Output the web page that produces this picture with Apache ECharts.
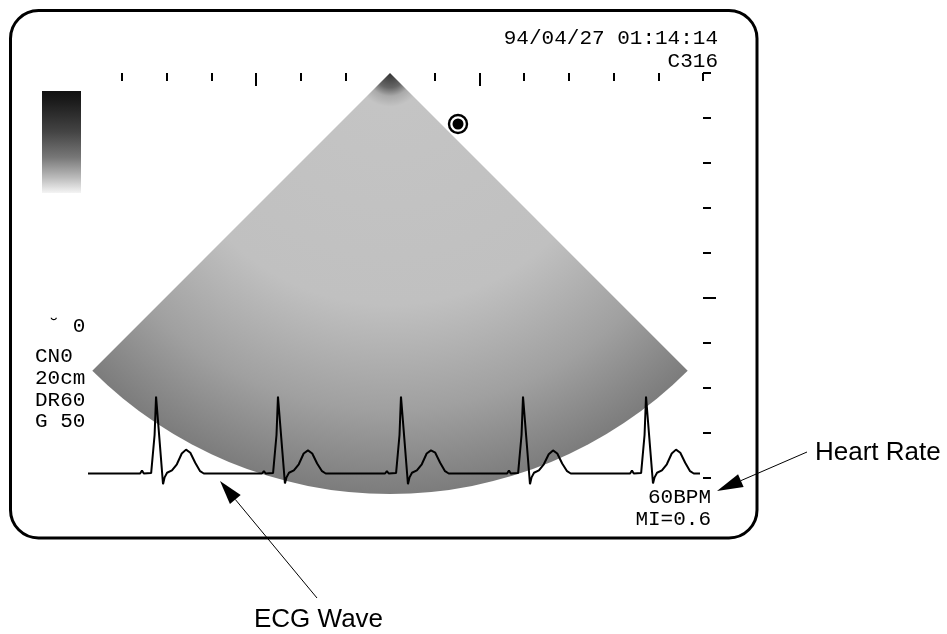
<!DOCTYPE html>
<html lang="en">
<head>
<meta charset="UTF-8">
<title>Ultrasound screen</title>
<script src="https://cdn.jsdelivr.net/npm/echarts@6/dist/echarts.min.js"></script>
<style>
    html, body { margin: 0; padding: 0; background: #fff; }
    #chart { width: 947px; height: 634px; }
</style>
</head>
<body>
<div id="chart"></div>
<script>
// ECG trace: seconds / mV, 60 BPM so one beat per second
var ecgTime = [
    0.000, 0.426, 0.441, 0.456, 0.516, 0.531, 0.544, 0.556, 0.564, 0.586, 0.613, 0.626, 0.646, 0.686, 0.726, 0.766, 0.801, 0.836, 0.876, 0.916, 0.946,
    1.422, 1.437, 1.452, 1.512, 1.527, 1.540, 1.552, 1.560, 1.582, 1.609, 1.622, 1.642, 1.682, 1.722, 1.762, 1.797, 1.832, 1.872, 1.912, 1.942,
    2.427, 2.442, 2.457, 2.517, 2.532, 2.545, 2.557, 2.565, 2.587, 2.614, 2.627, 2.647, 2.687, 2.727, 2.767, 2.802, 2.837, 2.877, 2.917, 2.947,
    3.424, 3.439, 3.454, 3.514, 3.529, 3.542, 3.554, 3.562, 3.584, 3.611, 3.624, 3.644, 3.684, 3.724, 3.764, 3.799, 3.834, 3.874, 3.914, 3.944,
    4.429, 4.444, 4.459, 4.519, 4.534, 4.547, 4.559, 4.567, 4.589, 4.616, 4.629, 4.649, 4.689, 4.729, 4.769, 4.804, 4.839, 4.879, 4.919, 4.949, 5.000
];
var ecgMv = [
    0.00, 0.00, 0.04, 0.00, 0.005, 0.03, 0.50, 1.00, 1.00, 0.40, -0.14, -0.05, 0.01, 0.04, 0.12, 0.26, 0.31, 0.27, 0.14, 0.03, 0.00,
    0.00, 0.03, 0.00, 0.005, 0.03, 0.50, 1.00, 1.00, 0.40, -0.13, -0.05, 0.01, 0.04, 0.12, 0.26, 0.30, 0.26, 0.13, 0.03, 0.00,
    0.00, 0.03, 0.00, 0.005, 0.03, 0.50, 1.00, 1.00, 0.40, -0.14, -0.05, 0.01, 0.04, 0.12, 0.26, 0.30, 0.27, 0.14, 0.03, 0.00,
    0.00, 0.04, 0.00, 0.005, 0.03, 0.50, 1.00, 1.00, 0.40, -0.14, -0.05, 0.01, 0.04, 0.12, 0.25, 0.30, 0.26, 0.13, 0.03, 0.00,
    0.00, 0.04, 0.00, 0.005, 0.03, 0.50, 1.00, 1.00, 0.40, -0.13, -0.05, 0.01, 0.04, 0.12, 0.26, 0.31, 0.27, 0.14, 0.03, 0.00, 0.00
];

// ruler ticks, counted from the top right corner
var topTicks = [0, 1, 2, 3, 4, 6, 8, 9, 11, 12, 13];
var topLongTicks = [5, 10];
var sideTicks = [0, 1, 2, 3, 4, 6, 7, 8, 9];
var sideLongTicks = [5];

// scan sector (90 deg), the rest of the circle stays empty
var sectorSpan = [90, 270];

var statusTop = ['94/04/27 01:14:14', 'C316'];
var statusLeft = [' \u02D8 0', 'CN0', '20cm', 'DR60', 'G 50'];
var statusBottom = ['60BPM', 'MI=0.6'];

var MONO = "'Liberation Mono', 'DejaVu Sans Mono', monospace";
var SANS = "'Liberation Sans', Arial, sans-serif";

var chart = echarts.init(document.getElementById('chart'), null, { renderer: 'canvas' });

function rulerAxis(grid, pos, min, max, ticks, len, inside) {
    return {
        gridIndex: grid, type: 'value', position: pos, min: min, max: max, inverse: true,
        axisLine: { show: false, onZero: false },
        axisLabel: { show: false },
        splitLine: { show: false },
        axisTick: { show: true, inside: inside, length: len, customValues: ticks,
            lineStyle: { color: '#000', width: 2 } }
    };
}

function arrow(x1, y1, x2, y2, headLen, headW) {
    // line from (x1,y1) to the tip (x2,y2) with a filled head
    var dx = x2 - x1, dy = y2 - y1, l = Math.sqrt(dx * dx + dy * dy);
    var ux = dx / l, uy = dy / l;
    var bx = x2 - ux * headLen, by = y2 - uy * headLen;
    return [
        { type: 'line', z: 20, shape: { x1: x1, y1: y1, x2: bx, y2: by }, style: { stroke: '#000', lineWidth: 1 } },
        { type: 'polygon', z: 20, shape: { points: [[x2, y2], [bx - uy * headW, by + ux * headW], [bx + uy * headW, by - ux * headW]] },
          style: { fill: '#000' } }
    ];
}

var ecgData = ecgTime.map(function (t, i) { return [t, ecgMv[i]]; });

var graphics = [
    // screen frame
    { type: 'rect', z: 20, shape: { x: 10.5, y: 10.5, width: 746.5, height: 527.5, r: 28 },
      style: { fill: 'none', stroke: '#000', lineWidth: 3 } },
    // gray scale bar
    { type: 'rect', z: 20, shape: { x: 42, y: 91, width: 39, height: 102 },
      style: { fill: new echarts.graphic.LinearGradient(0, 0, 0, 1, [
          { offset: 0, color: '#111' }, { offset: 0.09, color: '#1a1a1a' },
          { offset: 0.4, color: '#444' }, { offset: 0.65, color: '#777' },
          { offset: 0.85, color: '#bbb' }, { offset: 1, color: '#f4f4f4' }]) } },
    // focus marker
    { type: 'circle', z: 20, shape: { cx: 458, cy: 124, r: 9 }, style: { fill: '#fff', stroke: '#000', lineWidth: 2.4 } },
    { type: 'circle', z: 21, shape: { cx: 458, cy: 124, r: 5.5 }, style: { fill: '#000' } },
    // status text
    { type: 'text', z: 20, style: { text: statusTop[0], x: 718, y: 38, align: 'right', verticalAlign: 'middle', font: '21px ' + MONO, fill: '#000' } },
    { type: 'text', z: 20, style: { text: statusTop[1], x: 718, y: 61, align: 'right', verticalAlign: 'middle', font: '21px ' + MONO, fill: '#000' } },
    { type: 'text', z: 20, style: { text: statusBottom[0], x: 711, y: 497, align: 'right', verticalAlign: 'middle', font: '21px ' + MONO, fill: '#000' } },
    { type: 'text', z: 20, style: { text: statusBottom[1], x: 711, y: 519, align: 'right', verticalAlign: 'middle', font: '21px ' + MONO, fill: '#000' } },
    { type: 'text', z: 20, style: { text: 'Heart Rate', x: 815, y: 453, align: 'left', verticalAlign: 'middle', font: '26px ' + SANS, fill: '#000' } },
    { type: 'text', z: 20, style: { text: 'ECG Wave', x: 254, y: 620, align: 'left', verticalAlign: 'middle', font: '26px ' + SANS, fill: '#000' } }
];
var leftY = [326, 356, 378, 400, 421];
statusLeft.forEach(function (s, i) {
    graphics.push({ type: 'text', z: 20, style: { text: s, x: 35, y: leftY[i], align: 'left', verticalAlign: 'middle',
        font: '21px ' + MONO, fill: '#000' } });
});
graphics = graphics.concat(arrow(807, 452, 717, 491, 26, 7), arrow(317, 598, 220, 481, 24, 7));

chart.setOption({
    animation: false,
    backgroundColor: '#fff',
    grid: [
        { left: 122, top: 73, width: 581, height: 405 },
        { left: 88, top: 358, width: 612, height: 154 }
    ],
    xAxis: [
        rulerAxis(0, 'top', 0, 13, topTicks, 8, true),
        rulerAxis(0, 'top', 0, 13, topLongTicks, 13, true),
        { gridIndex: 1, type: 'value', min: 0, max: 5, show: false }
    ],
    yAxis: [
        rulerAxis(0, 'right', 0, 9, sideTicks, 8, false),
        rulerAxis(0, 'right', 0, 9, sideLongTicks, 13, false),
        { gridIndex: 1, type: 'value', min: -0.5, max: 1.5, show: false }
    ],
    series: [
        {
            type: 'pie', center: [390, 73], radius: 421, startAngle: 315, clockwise: true,
            silent: true, label: { show: false }, labelLine: { show: false }, emphasis: { disabled: true },
            z: 2,
            data: [
                { value: sectorSpan[0], itemStyle: { color: new echarts.graphic.RadialGradient(390, 73, 421, [
                    { offset: 0, color: '#333' }, { offset: 0.035, color: '#666' },
                    { offset: 0.055, color: '#aaa' }, { offset: 0.08, color: '#c4c4c4' },
                    { offset: 0.55, color: '#c0c0c0' }, { offset: 0.8, color: '#a0a0a0' },
                    { offset: 1, color: '#7c7c7c' }], true) } },
                { value: sectorSpan[1], itemStyle: { color: 'rgba(0,0,0,0)' } }
            ]
        },
        {
            type: 'line', xAxisIndex: 2, yAxisIndex: 2, data: ecgData, z: 5,
            showSymbol: false, silent: true, smooth: false,
            lineStyle: { color: '#000', width: 2 }
        }
    ],
    graphic: graphics
});
</script>
</body>
</html>
